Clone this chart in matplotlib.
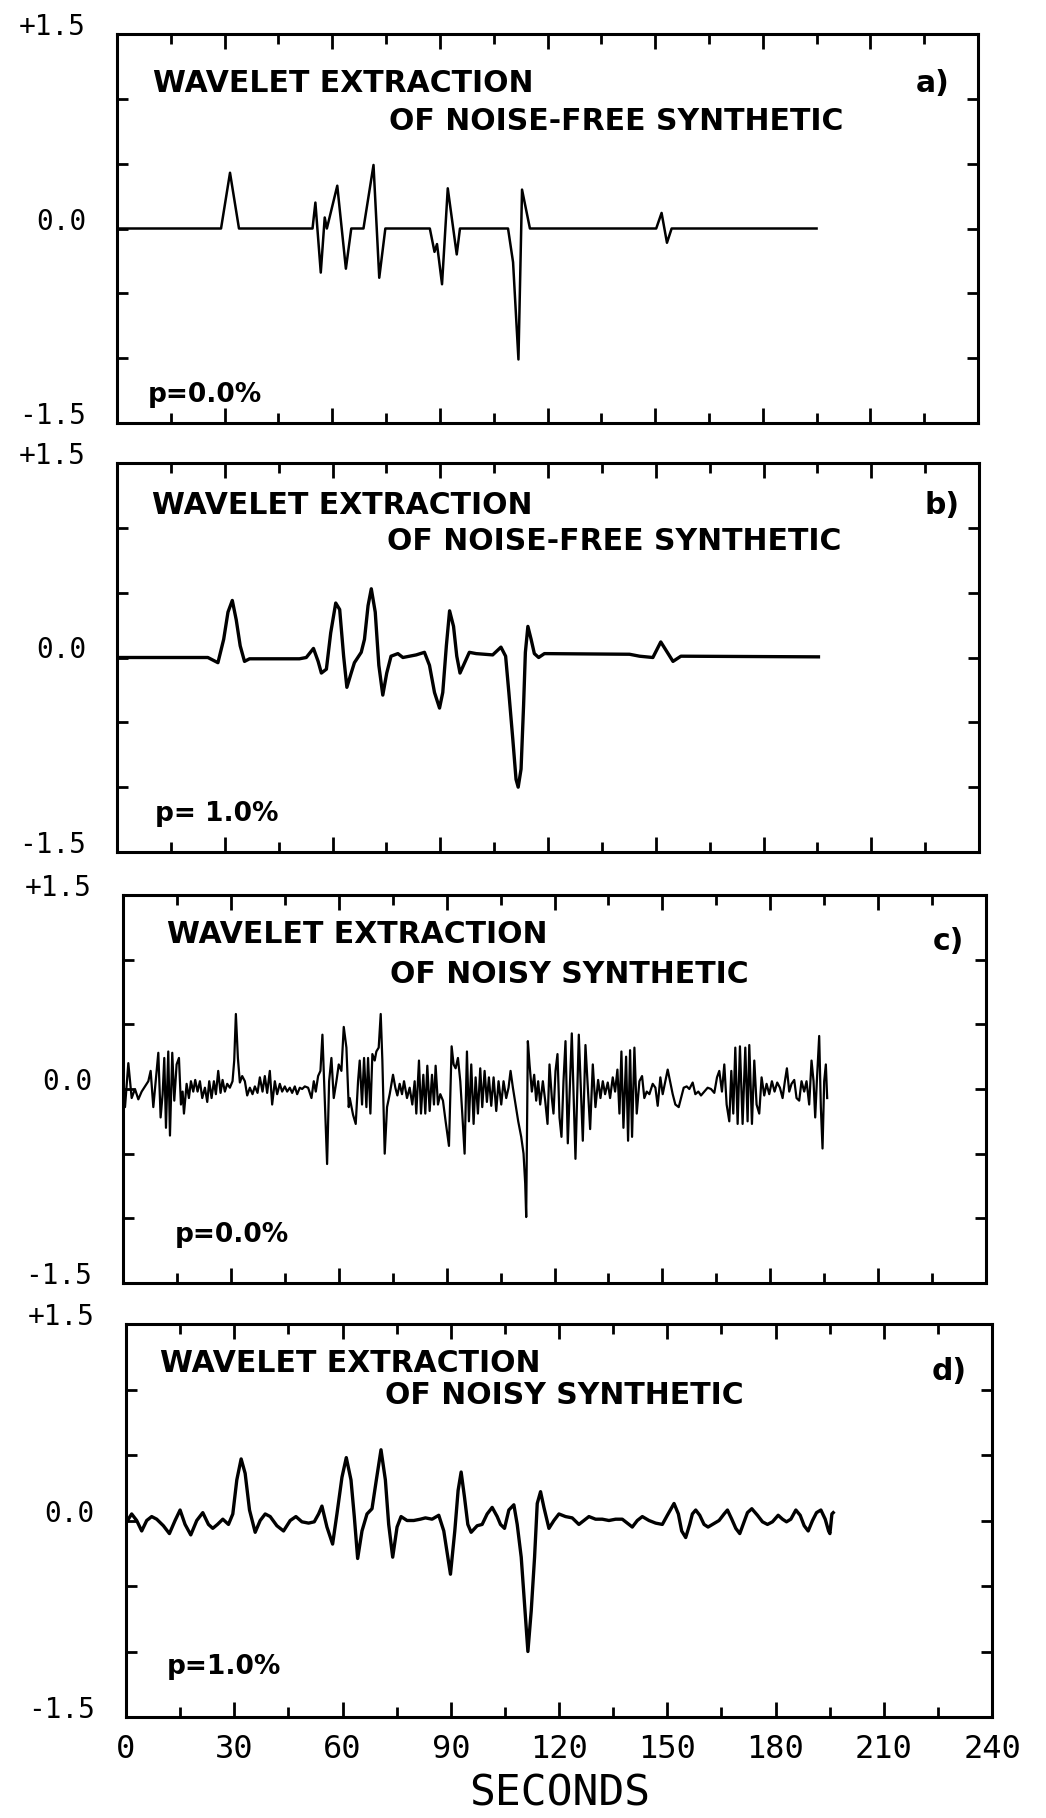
import matplotlib
matplotlib.use("Agg")
import matplotlib.pyplot as plt
import matplotlib.transforms as mtransforms
from matplotlib.ticker import MultipleLocator

# ---------------- data (seconds, amplitude) ----------------
a_t = [0, 29.0, 31.5, 34.0, 54.5, 55.3, 56.8, 57.9, 58.5, 61.4, 63.8, 65.3, 68.7,
       71.5, 73.1, 74.8, 87.2, 88.5, 89.2, 90.6, 92.2, 94.7, 95.6, 109.0, 110.4,
       111.9, 112.9, 115.1, 150.3, 151.8, 153.3, 154.6, 195.0]
a_v = [0, 0, 0.43, 0, 0, 0.20, -0.34, 0.085, 0.0, 0.33, -0.31, 0, 0,
       0.49, -0.38, 0, 0, -0.18, -0.12, -0.43, 0.31, -0.20, 0, 0, -0.26,
       -1.01, 0.30, 0, 0, 0.12, -0.11, 0, 0]

b_t = [0, 25.3, 28.1, 29.7, 30.9, 32.1, 33.2, 34.3, 35.5, 36.9, 50.8, 52.7, 54.7,
       56.0, 56.9, 58.3, 59.5, 60.9, 62.0, 63.1, 64.0, 65.2, 66.1, 68.0, 68.9,
       69.9, 70.8, 71.9, 72.9, 74.0, 75.1, 76.3, 78.2, 79.6, 83.3, 85.6, 87.0,
       88.4, 89.8, 90.7, 91.7, 92.6, 93.7, 94.6, 95.5, 96.8, 98.1, 100.0, 104.6,
       106.9, 108.2, 109.1, 110.2, 111.1, 111.7, 112.5, 113.2, 113.7, 114.4,
       115.3, 116.2, 117.4, 119.0, 142.7, 145.5, 149.2, 151.4, 154.8, 157.0, 195.3]
b_v = [0.0, 0.0, -0.04, 0.14, 0.35, 0.44, 0.29, 0.09, -0.03, -0.01, -0.01, 0.0, 0.07,
       -0.03, -0.12, -0.09, 0.19, 0.42, 0.37, 0.01, -0.23, -0.12, -0.04, 0.04, 0.14,
       0.40, 0.53, 0.35, -0.06, -0.29, -0.12, 0.01, 0.03, 0.0, 0.02, 0.04, -0.06,
       -0.27, -0.39, -0.27, 0.09, 0.36, 0.24, 0.01, -0.12, -0.04, 0.04, 0.03, 0.02,
       0.08, 0.01, -0.27, -0.63, -0.94, -1.0, -0.86, -0.37, 0.04, 0.24,
       0.14, 0.03, 0.0, 0.03, 0.025, 0.01, 0.0, 0.12, -0.03, 0.01, 0.005]

c_t = [0.09, 0.56, 1.48, 2.41, 3.33, 4.26, 5.19, 6.11, 7.04, 7.69, 8.43, 9.08, 9.82,
       10.46, 11.02, 11.48, 11.95, 12.59, 13.06, 13.70, 14.26, 14.91, 15.56, 16.11,
       16.58, 16.95, 17.69, 18.33, 18.89, 19.54, 20.09, 20.74, 21.39, 22.04, 22.78,
       23.43, 23.98, 24.63, 25.28, 25.83, 26.48, 27.13, 27.69, 28.33, 28.98, 29.72,
       30.46, 30.93, 31.39, 31.95, 32.50, 33.15, 33.89, 34.54, 35.28, 36.02, 36.67,
       37.41, 38.06, 38.80, 39.44, 40.09, 40.83, 41.48, 42.22, 42.87, 43.61, 44.26,
       45.00, 45.65, 46.39, 47.04, 47.78, 48.43, 49.17, 49.82, 50.56, 51.48, 52.41,
       53.06, 53.61, 54.26, 54.91, 55.46, 56.11, 56.76, 57.32, 57.96, 58.61, 59.35,
       60.00, 60.74, 61.39, 62.13, 62.78,
       63.06, 63.98, 64.72, 65.37, 65.83, 66.48, 67.04, 67.69, 68.15, 68.80, 69.35,
       70.00, 70.46, 71.11, 71.67, 72.13, 72.78, 73.43, 74.17, 75.09, 75.74, 76.30,
       76.94, 77.59, 78.15, 78.98, 79.72, 80.46, 81.11, 81.57, 82.31, 82.87, 83.52,
       84.07, 84.63, 85.28, 85.93, 86.48, 86.94, 87.59, 88.24, 88.98, 89.72, 90.65,
       91.39, 91.94, 92.50, 93.15, 93.80, 94.35, 95.00, 95.65, 96.20, 96.85, 97.50,
       98.06, 98.70, 99.35, 99.91, 100.56, 101.20, 101.76, 102.41, 103.06, 103.80,
       104.44, 105.19, 105.83, 106.57, 107.22, 107.78, 108.43, 109.17, 109.91,
       110.74, 111.39, 111.85, 112.13, 112.59, 113.06, 113.70, 114.35, 114.91,
       115.46, 116.02, 116.76, 117.41, 118.06, 118.61, 119.26, 119.72, 120.28,
       120.83, 121.39, 121.94, 122.50, 123.06, 123.70,
       124.81, 125.83, 126.76, 127.87, 128.61, 129.91, 130.65, 131.39, 132.13,
       132.78, 133.43, 134.07, 134.81, 135.46, 136.20, 136.85, 137.50, 138.06,
       138.61, 139.17, 139.91, 140.46, 141.02, 141.57, 142.22, 142.87, 143.61,
       144.35, 144.98, 145.65, 146.39, 147.31, 148.06, 148.70, 149.44, 150.09,
       150.83, 151.48, 152.13, 152.87, 153.61, 154.54, 155.19, 155.93, 156.76,
       157.50, 158.43, 159.17, 160.00, 160.74, 161.67, 162.59, 163.52, 164.44,
       165.19, 165.83, 166.57, 167.22, 167.87, 168.61, 169.17, 169.72, 170.28,
       170.93, 171.57, 172.31, 173.06, 173.70, 174.17, 174.91, 175.56, 176.20,
       176.94, 177.59, 178.33, 178.98, 179.72, 180.46, 181.20, 181.94, 182.69,
       183.43, 184.07, 184.63,
       185.28, 185.92, 186.67, 187.31, 188.05, 188.70, 189.44, 190.09, 190.83,
       191.48, 192.04, 192.50, 192.96, 193.61, 194.07, 194.54, 195.00, 195.46,
       195.83]
c_v = [0.01, -0.14, 0.20, -0.07, 0.00, -0.08, -0.02, 0.02, 0.06, 0.14, -0.14, 0.06, 0.28,
       -0.22, -0.04, 0.24, -0.30, 0.29, -0.36, 0.28, -0.09, 0.19, 0.24, -0.12,
       -0.02, -0.19, 0.04, -0.07, 0.06, -0.02, 0.07, -0.02, 0.06, -0.07, 0.01,
       -0.10, 0.06, -0.07, 0.06, -0.04, 0.14, -0.03, 0.07, -0.02, 0.04, 0.01,
       0.06, 0.22, 0.58, 0.24, 0.05, 0.10, 0.06, -0.05, 0.01, -0.04, 0.02,
       -0.03, 0.09, -0.02, 0.10, -0.03, 0.14, -0.12, 0.06, -0.04, 0.04, -0.02,
       0.02, -0.02, 0.01, -0.03, 0.02, -0.04, 0.01, 0.00, 0.02, 0.01, -0.07,
       0.06, -0.02, 0.10, 0.14, 0.42, -0.07, -0.58, 0.06, 0.24, -0.07, 0.06,
       0.19, 0.14, 0.48, 0.32, -0.14,
       -0.07, -0.20, -0.27, 0.06, 0.22, -0.12, 0.24, -0.14, 0.24, -0.19, 0.27,
       0.22, 0.29, 0.32, 0.58, 0.22, -0.50, -0.14, -0.04, 0.11, 0.01, -0.05,
       0.04, -0.04, 0.06, -0.07, 0.01, -0.12, 0.06, -0.19, 0.22, -0.19, 0.11,
       -0.19, 0.18, -0.17, 0.11, -0.12, 0.18, -0.12, -0.04, -0.09, -0.25, -0.44,
       0.33, 0.19, 0.16, 0.24, 0.06, -0.19, -0.50, 0.29, -0.25, 0.19, -0.27,
       0.09, -0.19, 0.16, -0.14, 0.14, -0.10, 0.09, -0.13, 0.09, -0.17,
       0.06, -0.12, 0.06, -0.07, 0.01, 0.14, 0.01, -0.12, -0.25,
       -0.37, -0.50, -0.73, -0.99, 0.37, 0.19, -0.02, 0.11, -0.09,
       0.06, -0.12, 0.06, -0.09, -0.27, 0.19, -0.07, -0.19, 0.14,
       0.27, -0.22, -0.37, 0.06, 0.37, -0.42,
       0.43, -0.54, 0.42, -0.40, 0.34, -0.31, 0.19, -0.14, 0.07,
       -0.07, 0.06, -0.04, 0.05, -0.07, 0.09, -0.02, 0.15, -0.19,
       0.29, -0.30, 0.25, -0.40, 0.30, -0.37, 0.32, -0.19, 0.06,
       0.10, -0.07, -0.02, -0.04, 0.04, 0.01, -0.13, 0.09, -0.04,
       0.06, 0.15, 0.06, -0.04, -0.12, -0.14, -0.07, 0.01, 0.02,
       0.00, 0.05, -0.04, -0.02, -0.05, -0.02, 0.01, 0.00, -0.03,
       0.09, 0.14, -0.02, 0.19, -0.12, -0.25, 0.14, -0.19, 0.32,
       -0.27, 0.33, -0.27, 0.32, -0.25, 0.34, -0.27, 0.22, -0.12,
       -0.19, 0.09, -0.05, 0.04, -0.04, 0.06, -0.02, 0.05, 0.01,
       -0.07, 0.06, 0.16,
       -0.02, 0.04, 0.07, -0.07, -0.09, 0.06, -0.02, 0.06, -0.12,
       0.22, 0.06, -0.22, 0.06, 0.41, -0.14, -0.46, 0.06, 0.19,
       -0.07]

d_t = [0.19, 1.57, 2.96, 4.35, 5.74, 7.12, 8.51, 10.36, 12.03, 13.60, 14.99, 16.37,
       17.95, 19.61, 21.28, 22.85, 24.05, 25.35, 26.83, 28.40, 29.60, 30.71, 31.91,
       33.02, 34.23, 35.80, 37.19, 38.58, 39.96, 41.81, 43.66, 45.51, 47.09, 48.75,
       50.60, 52.17, 53.38, 54.30, 55.69, 57.26, 58.46, 59.85, 61.05, 62.35, 63.27,
       64.20, 65.40, 66.79, 68.18, 69.38, 70.67, 71.88, 72.80, 73.91, 75.12, 76.23,
       77.89, 79.74, 81.59, 82.98, 84.83, 86.68, 88.07, 89.18, 89.92, 91.12, 92.04,
       92.88, 93.80, 94.73, 95.65, 97.32, 98.70, 100.09, 101.48, 102.87, 103.79,
       104.90, 106.10, 107.49, 108.42, 109.53, 110.45, 111.38, 112.30, 113.23,
       113.97, 114.89, 115.82, 117.21, 118.59, 119.98,
       121.81, 123.66, 125.51, 126.90, 128.29, 130.14, 131.99, 133.84, 135.69,
       137.54, 138.92, 140.31, 141.70, 143.09, 144.94, 146.79, 148.64, 150.03,
       151.88, 153.08, 154.00, 155.11, 156.22, 156.96, 157.89, 159.00, 160.20,
       161.31, 162.51, 164.36, 165.75, 166.68, 167.88, 168.99, 170.10, 171.30,
       172.23, 173.43, 175.00, 176.39, 177.78, 179.16, 180.74, 181.94, 183.05,
       184.25, 185.64, 186.84, 187.95, 189.06, 190.26, 191.37, 192.58, 193.78,
       194.71, 195.08, 195.63, 196.00]
d_v = [-0.01, 0.05, 0.00, -0.08, 0.00, 0.03, 0.01, -0.04, -0.10, 0.00, 0.08, -0.03,
       -0.11, 0.00, 0.06, -0.03, -0.06, -0.03, 0.01, -0.03, 0.05, 0.31, 0.47,
       0.36, 0.08, -0.09, 0.00, 0.05, 0.03, -0.04, -0.08, 0.00, 0.03, -0.01,
       -0.02, -0.01, 0.05, 0.11, -0.05, -0.18, 0.05, 0.33, 0.48, 0.31, 0.03,
       -0.29, -0.08, 0.05, 0.09, 0.31, 0.54, 0.31, -0.03, -0.28, -0.05, 0.03,
       0.00, 0.00, 0.01, 0.02, 0.01, 0.04, -0.08, -0.28, -0.41, -0.08, 0.23,
       0.37, 0.18, -0.03, -0.09, -0.04, -0.03, 0.05, 0.10, 0.03, -0.03,
       -0.06, 0.08, 0.12, -0.03, -0.28, -0.64, -1.00, -0.69, -0.28,
       0.13, 0.22, 0.10, -0.06, 0.00, 0.05,
       0.03, 0.02, -0.03, 0.00, 0.03, 0.01, 0.01, 0.00, 0.01,
       0.01, -0.02, -0.05, 0.00, 0.03, 0.00, -0.02, -0.03, 0.04,
       0.13, 0.05, -0.08, -0.13, -0.03, 0.05, 0.08, 0.04, -0.03,
       -0.05, -0.03, 0.00, 0.05, 0.08, 0.01, -0.06, -0.10, -0.01,
       0.06, 0.09, 0.04, -0.01, -0.03, -0.01, 0.04, 0.01, -0.01,
       0.01, 0.08, 0.04, -0.04, -0.08, 0.00, 0.06, 0.08, 0.01,
       -0.08, -0.10, 0.05, 0.06]

series_t = [a_t, b_t, c_t, d_t]
series_v = [a_v, b_v, c_v, d_v]
panel_tags = ["a)", "b)", "c)", "d)"]
title_line1 = ["WAVELET EXTRACTION"] * 4
title_line2 = ["OF NOISE-FREE SYNTHETIC", "OF NOISE-FREE SYNTHETIC",
               "OF NOISY SYNTHETIC", "OF NOISY SYNTHETIC"]
p_labels = ["p=0.0%", "p= 1.0%", "p=0.0%", "p=1.0%"]
y_label_vals = [1.5, 0.0, -1.5]
y_label_txt = ["+1.5", "0.0", "-1.5"]
x_tick_vals = [0, 30, 60, 90, 120, 150, 180, 210, 240]
x_tick_txt = ["0", "30", "60", "90", "120", "150", "180", "210", "240"]
x_label = "SECONDS"

# ---------------- layout (pixels in a 1046x1818 canvas) ----------------
W, H = 1046, 1818
frames = [(117, 978, 34, 423), (117, 979, 463, 852),
          (123, 986, 895, 1283), (126, 992, 1324, 1717)]
line_widths = [1.8, 2.4, 1.6, 2.4]
# (line1 dx, dy), (line2 dx, dy), (tag dx from right, dy), (p dx, dy) relative to frame top-left
text_pos = [((36, 49), (272, 88), (28, 49), (31, 361)),
            ((35, 42), (270, 79), (19, 42), (38, 351)),
            ((44, 40), (267, 80), (22, 47), (52, 340)),
            ((34, 39), (259, 71), (25, 48), (41, 343))]

fig = plt.figure(figsize=(W / 100, H / 100), dpi=100)
fig.patch.set_facecolor("white")

mono = "DejaVu Sans Mono"
sans = "DejaVu Sans"

for i, (l, r, t, b) in enumerate(frames):
    ax = fig.add_axes([l / W, 1 - b / H, (r - l) / W, (b - t) / H])
    ax.plot(series_t[i], series_v[i], color="black", lw=line_widths[i],
            solid_joinstyle="round")
    ax.set_xlim(0, 240)
    ax.set_ylim(-1.5, 1.5)
    for s in ax.spines.values():
        s.set_linewidth(2.2)
    ax.xaxis.set_major_locator(MultipleLocator(30))
    ax.xaxis.set_minor_locator(MultipleLocator(15))
    ax.yaxis.set_major_locator(MultipleLocator(0.5))
    ax.tick_params(axis="x", which="both", direction="in", top=True, bottom=True,
                   width=2.0)
    ax.tick_params(axis="x", which="major", length=11, pad=12)
    ax.tick_params(axis="x", which="minor", length=7)
    ax.tick_params(axis="y", which="major", direction="in", left=True, right=True,
                   length=8, width=2.0, labelleft=False)
    if i < 3:
        ax.tick_params(axis="x", labelbottom=False)
    else:
        ax.set_xticks(x_tick_vals)
        ax.set_xticklabels(x_tick_txt, fontfamily=mono, fontsize=23)

    trans = mtransforms.offset_copy(ax.get_yaxis_transform(), fig=fig,
                                    x=-31, y=7, units="dots")
    for val, txt in zip(y_label_vals, y_label_txt):
        ax.text(0, val, txt, transform=trans, ha="right", va="center",
                fontfamily=mono, fontsize=20)

    pw, ph = r - l, b - t
    (x1, y1), (x2, y2), (xt, yt), (xp, yp) = text_pos[i]
    ax.text(x1 / pw, 1 - y1 / ph, title_line1[i], transform=ax.transAxes,
            ha="left", va="center", fontfamily=sans, fontweight="bold", fontsize=21.5)
    ax.text(x2 / pw, 1 - y2 / ph, title_line2[i], transform=ax.transAxes,
            ha="left", va="center", fontfamily=sans, fontweight="bold", fontsize=21.5)
    ax.text(1 - xt / pw, 1 - yt / ph, panel_tags[i], transform=ax.transAxes,
            ha="right", va="center", fontfamily=sans, fontweight="bold", fontsize=21.5)
    ax.text(xp / pw, 1 - yp / ph, p_labels[i], transform=ax.transAxes,
            ha="left", va="center", fontfamily=sans, fontweight="bold", fontsize=19)

fig.text(560 / W, 1 - 1806 / H, x_label, ha="center", va="baseline",
         fontfamily=mono, fontsize=31)

fig.savefig("out.png", dpi=100, facecolor="white")
